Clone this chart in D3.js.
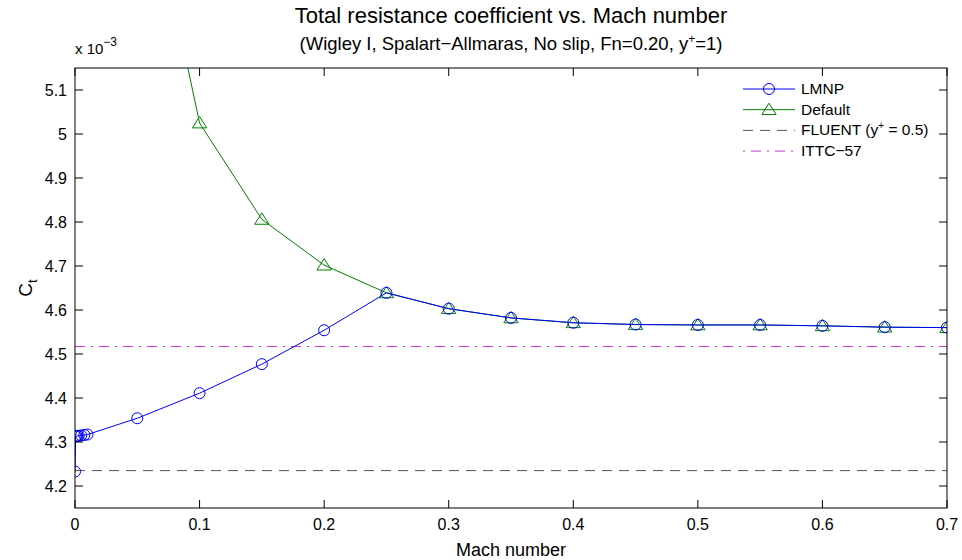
<!DOCTYPE html>
<html>
<head>
<meta charset="utf-8">
<script src="https://cdn.jsdelivr.net/npm/d3@7.9.0/dist/d3.min.js"></script>
<style>
  body { margin: 0; background: #fff; }
  svg { display: block; font-family: "Liberation Sans", Arial, Helvetica, sans-serif; }
</style>
</head>
<body>
<svg id="chart" width="962" height="560"></svg>
<script>
// Mach numbers and Ct values (x 10^-3)
const lmnpMach = [0, 0.0005, 0.001, 0.002, 0.003, 0.005, 0.0075, 0.01, 0.05, 0.1, 0.15, 0.2, 0.25, 0.3, 0.35, 0.4, 0.45, 0.5, 0.55, 0.6, 0.65, 0.7];
const lmnpCt = [4.233, 4.313, 4.313, 4.314, 4.314, 4.315, 4.316, 4.317, 4.354, 4.411, 4.477, 4.554, 4.639, 4.603, 4.582, 4.571, 4.567, 4.566, 4.566, 4.564, 4.561, 4.560];

const defaultMach = [0.05, 0.1, 0.15, 0.2, 0.25, 0.3, 0.35, 0.4, 0.45, 0.5, 0.55, 0.6, 0.65, 0.7];
const defaultCt = [5.69, 5.025, 4.806, 4.702, 4.639, 4.603, 4.582, 4.571, 4.567, 4.566, 4.566, 4.564, 4.561, 4.560];

const fluentCt = 4.235;
const ittcCt = 4.517;

const xTicks = [0, 0.1, 0.2, 0.3, 0.4, 0.5, 0.6, 0.7];
const yTicks = [4.2, 4.3, 4.4, 4.5, 4.6, 4.7, 4.8, 4.9, 5, 5.1];

const legendLabels = ['LMNP', 'Default', 'FLUENT', 'ITTC\u221257'];

const margin = { top: 68, right: 15, bottom: 52, left: 75 };
const width = 962, height = 560;
const svg = d3.select('#chart');

const x = d3.scaleLinear().domain([0, 0.7]).range([margin.left, width - margin.right]);
const y = d3.scaleLinear().domain([4.15, 5.15]).range([height - margin.bottom, margin.top]);

const blue = '#0000ff', green = '#008000', gray = '#555555', magenta = '#cc33cc';

// clip for the plotted lines
svg.append('clipPath').attr('id', 'plot-clip')
  .append('rect')
  .attr('x', x(0)).attr('y', y(5.15))
  .attr('width', x(0.7) - x(0)).attr('height', y(4.15) - y(5.15));

const plot = svg.append('g').attr('clip-path', 'url(#plot-clip)');

// reference lines
plot.append('line')
  .attr('x1', x(0)).attr('x2', x(0.7))
  .attr('y1', y(fluentCt)).attr('y2', y(fluentCt))
  .attr('stroke', gray).attr('stroke-dasharray', '10,7');

plot.append('line')
  .attr('x1', x(0)).attr('x2', x(0.7))
  .attr('y1', y(ittcCt)).attr('y2', y(ittcCt))
  .attr('stroke', magenta).attr('stroke-dasharray', '10,6,2,6');

const line = d3.line().x((d) => x(d[0])).y((d) => y(d[1]));
const lmnpData = d3.zip(lmnpMach, lmnpCt);
const defaultData = d3.zip(defaultMach, defaultCt);

plot.append('path').datum(defaultData)
  .attr('d', line).attr('fill', 'none').attr('stroke', green);

plot.append('path').datum(lmnpData)
  .attr('d', line).attr('fill', 'none').attr('stroke', blue);

const triangle = (cx, cy, r) =>
  `M${cx},${cy - r}L${cx + r * 1.1},${cy + r * 0.75}L${cx - r * 1.1},${cy + r * 0.75}Z`;

plot.selectAll('path.tri').data(defaultData).join('path')
  .attr('class', 'tri')
  .attr('d', (d) => triangle(x(d[0]), y(d[1]), 6.5))
  .attr('fill', 'none').attr('stroke', green);

plot.selectAll('circle').data(lmnpData).join('circle')
  .attr('cx', (d) => x(d[0])).attr('cy', (d) => y(d[1])).attr('r', 5.5)
  .attr('fill', 'none').attr('stroke', blue);

// axes box with inward ticks on all sides
const tickLen = 8;
const axes = svg.append('g').attr('stroke', '#000').attr('fill', 'none');
axes.append('rect')
  .attr('x', x(0)).attr('y', y(5.15))
  .attr('width', x(0.7) - x(0)).attr('height', y(4.15) - y(5.15));

xTicks.forEach((t) => {
  axes.append('line').attr('x1', x(t)).attr('x2', x(t))
    .attr('y1', y(4.15)).attr('y2', y(4.15) - tickLen);
  axes.append('line').attr('x1', x(t)).attr('x2', x(t))
    .attr('y1', y(5.15)).attr('y2', y(5.15) + tickLen);
});
yTicks.forEach((t) => {
  axes.append('line').attr('x1', x(0)).attr('x2', x(0) + tickLen)
    .attr('y1', y(t)).attr('y2', y(t));
  axes.append('line').attr('x1', x(0.7)).attr('x2', x(0.7) - tickLen)
    .attr('y1', y(t)).attr('y2', y(t));
});

svg.append('g').selectAll('text').data(xTicks).join('text')
  .attr('x', (d) => x(d)).attr('y', y(4.15) + 22)
  .attr('text-anchor', 'middle').attr('font-size', 16)
  .text((d) => d3.format('~g')(d));

svg.append('g').selectAll('text').data(yTicks).join('text')
  .attr('x', x(0) - 8).attr('y', (d) => y(d) + 6)
  .attr('text-anchor', 'end').attr('font-size', 16)
  .text((d) => d3.format('~g')(d));

// exponent label
const expo = svg.append('text').attr('x', x(0)).attr('y', 54).attr('font-size', 15);
expo.append('tspan').text('x 10');
expo.append('tspan').attr('dy', -8).attr('font-size', 12).text('\u22123');

// axis titles
svg.append('text').attr('x', (x(0) + x(0.7)) / 2).attr('y', 556)
  .attr('text-anchor', 'middle').attr('font-size', 18).text('Mach number');

const yl = svg.append('text')
  .attr('transform', `translate(32,${(y(4.15) + y(5.15)) / 2}) rotate(-90)`)
  .attr('text-anchor', 'middle').attr('font-size', 19);
yl.append('tspan').text('C');
yl.append('tspan').attr('dy', 5).attr('font-size', 13).text('t');

// titles
svg.append('text').attr('x', (x(0) + x(0.7)) / 2).attr('y', 23)
  .attr('text-anchor', 'middle').attr('font-size', 22)
  .text('Total resistance coefficient vs. Mach number');
const sub = svg.append('text').attr('x', (x(0) + x(0.7)) / 2).attr('y', 50)
  .attr('text-anchor', 'middle').attr('font-size', 18.5);
sub.append('tspan').text('(Wigley I, Spalart\u2212Allmaras, No slip, Fn=0.20, y');
sub.append('tspan').attr('dy', -7).attr('font-size', 12).text('+');
sub.append('tspan').attr('dy', 7).text('=1)');

// legend
const lx0 = 743, lx1 = 795, ly0 = 89, lstep = 20.7;
const leg = svg.append('g');
const styles = [
  { stroke: blue, dash: null, marker: 'circle' },
  { stroke: green, dash: null, marker: 'tri' },
  { stroke: gray, dash: '10,7', marker: null },
  { stroke: magenta, dash: '2,6,10,6', marker: null },
];
legendLabels.forEach((label, i) => {
  const ly = ly0 + i * lstep;
  const s = styles[i];
  leg.append('line').attr('x1', lx0).attr('x2', lx1).attr('y1', ly).attr('y2', ly)
    .attr('stroke', s.stroke).attr('stroke-dasharray', s.dash);
  const mx = (lx0 + lx1) / 2;
  if (s.marker === 'circle') {
    leg.append('circle').attr('cx', mx).attr('cy', ly).attr('r', 5.5)
      .attr('fill', 'none').attr('stroke', s.stroke);
  } else if (s.marker === 'tri') {
    leg.append('path').attr('d', triangle(mx, ly, 6.5)).attr('fill', 'none').attr('stroke', s.stroke);
  }
  const t = leg.append('text').attr('x', lx1 + 6).attr('y', ly + 5).attr('font-size', 15.5);
  if (i === 2) {
    t.append('tspan').text('FLUENT (y');
    t.append('tspan').attr('dy', -6).attr('font-size', 10).text('+');
    t.append('tspan').attr('dy', 6).text(' = 0.5)');
  } else {
    t.text(label);
  }
});
</script>
</body>
</html>
